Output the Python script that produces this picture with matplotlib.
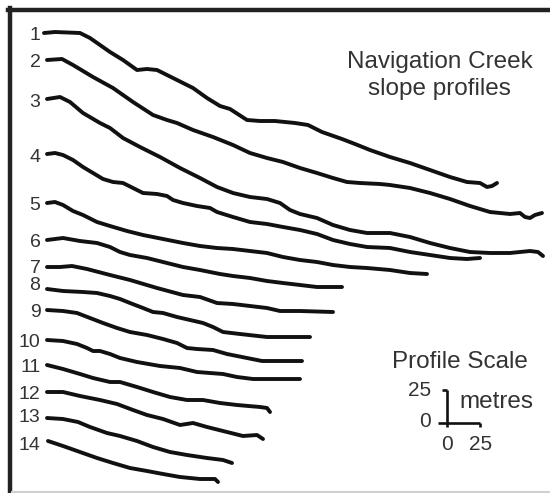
import matplotlib
matplotlib.use("Agg")
import matplotlib.pyplot as plt
from matplotlib.lines import Line2D

plt.rcParams['font.family'] = ['Liberation Sans', 'DejaVu Sans']

# ---------------- data (metres) ----------------
# horizontal distance from crest (m) and elevation relative to crest (m)
p1_dist = [0, 8.25, 27, 34.5, 42, 49.5, 59.25, 69.75, 77.25, 84.75, 96.75, 111.75, 122.25, 132, 139.5,
           152.25, 162, 173.25, 188.25, 198, 208.5, 223.5, 233.25, 244.5, 259.5, 274.5, 289.5, 304.5,
           317.25, 327, 332.25, 336, 339.75]
p1_elev = [0, 0.75, 0, -3.75, -9, -14.25, -20.25, -27.75, -27, -27.75, -33.75, -41.25, -48.75, -54.75, -57,
           -65.25, -66, -66, -67.5, -69, -74.25, -79.5, -83.25, -87.75, -93, -97.5, -102.75, -108,
           -111.75, -112.5, -115.5, -114.75, -112.5]

p2_dist = [0, 11.25, 19.5, 34.5, 49.5, 64.5, 79.5, 90, 97.5, 109.5, 124.5, 139.5, 152.25, 165, 177,
           189.75, 202.5, 214.5, 225, 234.75, 249.75, 257.25, 272.25, 287.25, 302.25, 317.25, 332.25,
           347.25, 354.75, 358.5, 362.25, 366, 371.25]
p2_elev = [0, 0.75, -3.75, -12.75, -21, -31.5, -41.25, -45, -47.25, -52.5, -57.75, -63.75, -69.75, -73.5,
           -76.5, -81, -84.75, -88.5, -91.5, -92.25, -93, -93.75, -96, -99.75, -104.25, -109.5, -114,
           -115.5, -114.75, -117.75, -118.5, -116.25, -114.75]

p3_dist = [0, 9.75, 17.25, 27, 39.75, 47.25, 57, 69.75, 84.75, 99.75, 114.75, 127.5, 139.5, 152.25, 165,
           174.75, 182.25, 189.75, 202.5, 214.5, 227.25, 240, 257.25, 272.25, 287.25, 302.25, 317.25,
           332.25, 347.25, 362.25, 368.25, 372]
p3_elev = [0, 1.5, -2.25, -10.5, -18, -21.75, -29.25, -36, -43.5, -51.75, -59.25, -66, -70.5, -73.5, -75,
           -78, -83.25, -86.25, -89.25, -94.5, -98.25, -100.5, -100.5, -103.5, -108, -111.75, -114.75,
           -115.5, -115.5, -114, -114.75, -117.75]

p4_dist = [0, 6, 12, 19.5, 27, 34.5, 42, 49.5, 57, 64.5, 72, 82.5, 90, 94.5, 102, 112.5, 122.25, 127.5,
           139.5, 152.25, 165, 177, 189.75, 202.5, 214.5, 227.25, 240, 257.25, 272.25, 287.25, 302.25,
           315, 324.75]
p4_elev = [0, 0.75, -0.75, -4.5, -9.75, -14.25, -18.75, -21, -21.75, -25.5, -29.25, -30, -31.5, -34.5,
           -36.75, -39, -40.5, -43.5, -47.25, -51, -52.5, -54.75, -57, -60, -64.5, -67.5, -69.75, -70.5,
           -73.5, -75.75, -78, -78.75, -78]

p5_dist = [0, 6, 12, 19.5, 27, 37.5, 47.25, 60, 72, 87, 102, 114.75, 127.5, 139.5, 152.25, 165, 177,
           189.75, 202.5, 214.5, 227.25, 240, 257.25, 272.25, 285]
p5_elev = [0, 0.75, -1.5, -6, -9, -14.25, -17.25, -21, -24, -27, -30, -32.25, -33.75, -34.5, -36, -37.5,
           -40.5, -42.75, -44.25, -46.5, -48, -48.75, -50.25, -52.5, -53.25]

p6_dist = [0, 6, 12, 24.75, 37.5, 47.25, 54.75, 62.25, 75, 87, 102, 114.75, 129.75, 139.5, 152.25, 165,
           177, 189.75, 202.5, 221.25]
p6_elev = [0, 0.75, 1.5, -0.75, -2.25, -5.25, -9, -11.25, -13.5, -16.5, -20.25, -22.5, -25.5, -27, -28.5,
           -30.75, -32.25, -33.75, -35.25, -35.25]

p7_dist = [0, 9.75, 18.75, 30, 47.25, 62.25, 82.5, 102, 114.75, 127.5, 139.5, 152.25, 165, 174.75,
           189.75, 214.5]
p7_elev = [0, 0, 0.75, -1.5, -6, -9.75, -15.75, -21, -22.5, -27, -27.75, -29.25, -30.75, -33, -33, -33.75]

p8_dist = [0, 12, 27, 37.5, 47.25, 54.75, 62.25, 72, 79.5, 87, 97.5, 107.25, 117, 124.5, 132, 144.75,
           165, 197.25]
p8_elev = [0, -1.5, -2.25, -3, -5.25, -7.5, -10.5, -14.25, -17.25, -18, -21, -23.25, -25.5, -28.5, -32.25,
           -33.75, -36, -36]

p9_dist = [0, 12, 22.5, 32.25, 42, 52.5, 62.25, 75, 87, 97.5, 105, 112.5, 124.5, 135, 146.25, 161.25,
           191.25]
p9_elev = [0, -0.75, -2.25, -6, -9.75, -13.5, -16.5, -18.75, -21.75, -24.75, -28.5, -29.25, -30, -33,
           -35.25, -38.25, -38.25]

p10_dist = [0, 12, 22.5, 30, 34.5, 39.75, 47.25, 54.75, 67.5, 84.75, 99.75, 112.5, 122.25, 132, 142.5,
            154.5, 174.75, 189.75]
p10_elev = [0, -0.75, -3, -6, -8.25, -8.25, -10.5, -13.5, -16.5, -19.5, -21, -24, -24.75, -25.5, -27.75,
            -29.25, -29.25, -29.25]

p11_dist = [0, 12, 24.75, 34.5, 47.25, 54.75, 67.5, 79.5, 92.25, 105, 117, 129.75, 142.5, 159.75, 165,
            167.25]
p11_elev = [0, -3, -6.75, -9.75, -12.75, -12.75, -16.5, -20.25, -24, -26.25, -26.25, -28.5, -30, -31.5,
            -32.25, -35.25]

p12_dist = [0, 12, 24.75, 39.75, 52.5, 64.5, 75, 87, 99.75, 109.5, 120, 135, 147, 157.5, 162]
p12_elev = [0, 0, -3, -6, -9, -13.5, -17.25, -20.25, -24.75, -23.25, -26.25, -30, -33, -32.25, -35.25]

p13_dist = [0, 12, 23.25, 32.25, 45, 54.75, 67.5, 79.5, 92.25, 105, 120, 132, 138.75]
p13_elev = [0, -0.75, -3, -6.75, -11.25, -13.5, -17.25, -21.75, -25.5, -27.75, -30, -31.5, -33.75]

p14_dist = [0.75, 12, 24.75, 37.5, 49.5, 62.25, 75, 87, 99.75, 114.75, 126, 128.25]
p14_elev = [0, -3.75, -8.25, -12.75, -16.5, -20.25, -22.5, -24.75, -27, -28.5, -28.5, -30.75]

profile_labels = ['1', '2', '3', '4', '5', '6', '7', '8', '9', '10', '11', '12', '13', '14']
scale_length_m = 25
scale_tick_labels = ['0', '25']

title_lines = ['Navigation Creek', 'slope profiles']
scale_title = 'Profile Scale'
scale_unit = 'metres'

# ---------------- layout ----------------
W, H = 550, 493
M = 0.75                      # metres per pixel of the drawing
crest_x_px = [44] + [47] * 13
crest_y_px = [33, 60, 99, 154, 203, 240, 267, 289, 310, 340, 365, 392, 418, 441]
label_nudge_px = [0, 0, 1, 1, 0, 0, -1, -6, 0, 0, 0, 0, -3, 2]

profiles = [(p1_dist, p1_elev), (p2_dist, p2_elev), (p3_dist, p3_elev), (p4_dist, p4_elev),
            (p5_dist, p5_elev), (p6_dist, p6_elev), (p7_dist, p7_elev), (p8_dist, p8_elev),
            (p9_dist, p9_elev), (p10_dist, p10_elev), (p11_dist, p11_elev), (p12_dist, p12_elev),
            (p13_dist, p13_elev), (p14_dist, p14_elev)]

TEXT = '#333333'
LINE = '#111111'

fig = plt.figure(figsize=(W / 100, H / 100), dpi=100)
fig.patch.set_facecolor('white')
ax = fig.add_axes([0, 0, 1, 1])
ax.set_xlim(0, W * M)
ax.set_ylim(-H * M, 0)
ax.axis('off')

for i, (d, e) in enumerate(profiles):
    x0 = crest_x_px[i] * M
    y0 = -crest_y_px[i] * M
    ax.plot([x0 + v for v in d], [y0 + v for v in e], color=LINE, lw=2.8,
            solid_joinstyle='round', solid_capstyle='round')
    ax.text(40.5 * M, -(crest_y_px[i] + label_nudge_px[i] + 7) * M, profile_labels[i],
            ha='right', va='baseline', fontsize=14, color=TEXT)

# title
ax.text(440 * M, -68 * M, title_lines[0], ha='center', va='baseline', fontsize=17.5, color=TEXT)
ax.text(439 * M, -95 * M, title_lines[1], ha='center', va='baseline', fontsize=17.5, color=TEXT)

# scale bar
ox, oy = 447 * M, -423 * M
s = scale_length_m
ax.plot([ox, ox], [oy - 3, oy + s], color=LINE, lw=1.9, solid_capstyle='butt')
ax.plot([ox - 4, ox], [oy + s, oy + s], color=LINE, lw=1.9, solid_capstyle='butt')
ax.plot([ox - 6.5, ox + s], [oy, oy], color=LINE, lw=1.9, solid_capstyle='butt')
ax.plot([ox + s, ox + s], [oy, oy - 3], color=LINE, lw=1.9, solid_capstyle='butt')

ax.text(460 * M, -368 * M, scale_title, ha='center', va='baseline', fontsize=17.5, color=TEXT)
ax.text(496 * M, -408 * M, scale_unit, ha='center', va='baseline', fontsize=17.5, color=TEXT)
ax.text(ox - 12, oy + s - 4.5, scale_tick_labels[1], ha='right', va='baseline', fontsize=15, color=TEXT)
ax.text(ox - 12, oy - 3, scale_tick_labels[0], ha='right', va='baseline', fontsize=15, color=TEXT)
ax.text(ox, oy - 20, scale_tick_labels[0], ha='center', va='baseline', fontsize=15, color=TEXT)
ax.text(ox + s, oy - 20, scale_tick_labels[1], ha='center', va='baseline', fontsize=15, color=TEXT)

# frame (dark top/left, faint bottom)
def fx(px):
    return px / W

def fy(py):
    return 1 - py / H

fig.add_artist(Line2D([fx(8), fx(W)], [fy(10), fy(10)], color='#222222', lw=3.2,
                      transform=fig.transFigure))
fig.add_artist(Line2D([fx(10), fx(10)], [fy(8), fy(491)], color='#222222', lw=3.2,
                      transform=fig.transFigure))
fig.add_artist(Line2D([fx(12), fx(W)], [fy(491.5), fy(491.5)], color='#d0d0d0', lw=1.5,
                      transform=fig.transFigure))

fig.savefig('out.png', dpi=100, facecolor='white')
